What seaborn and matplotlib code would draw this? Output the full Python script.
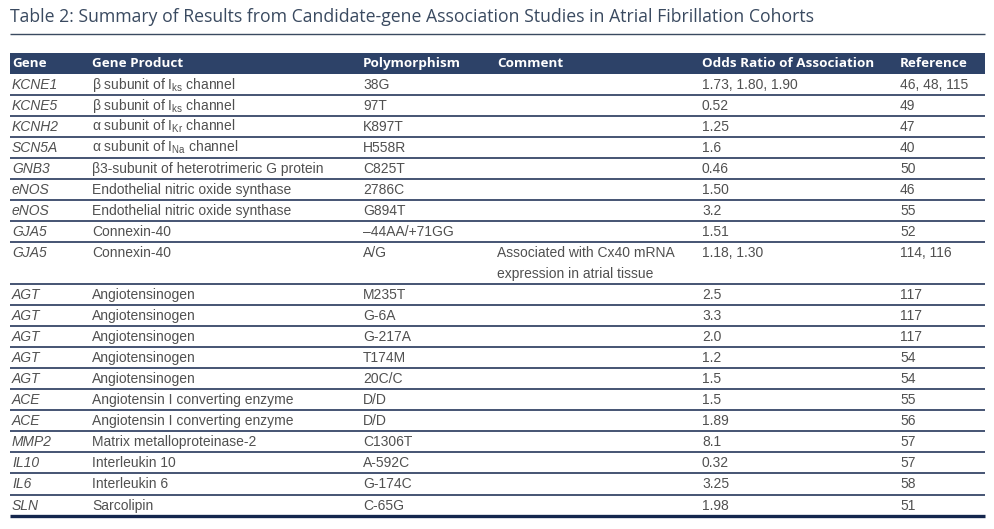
import matplotlib
matplotlib.use("Agg")
import matplotlib.pyplot as plt
from matplotlib import font_manager
import seaborn as sns

# ---------------- data ----------------
title = "Table 2: Summary of Results from Candidate-gene Association Studies in Atrial Fibrillation Cohorts"
headers = ["Gene", "Gene Product", "Polymorphism", "Comment", "Odds Ratio of Association", "Reference"]
genes = ["KCNE1", "KCNE5", "KCNH2", "SCN5A", "GNB3", "eNOS", "eNOS", "GJA5", "GJA5",
         "AGT", "AGT", "AGT", "AGT", "AGT", "ACE", "ACE", "MMP2", "IL10", "IL6", "SLN"]
products = [r"β subunit of I$_{\mathrm{ks}}$ channel",
            r"β subunit of I$_{\mathrm{ks}}$ channel",
            r"α subunit of I$_{\mathrm{Kr}}$ channel",
            r"α subunit of I$_{\mathrm{Na}}$ channel",
            "β3-subunit of heterotrimeric G protein",
            "Endothelial nitric oxide synthase",
            "Endothelial nitric oxide synthase",
            "Connexin-40", "Connexin-40",
            "Angiotensinogen", "Angiotensinogen", "Angiotensinogen", "Angiotensinogen", "Angiotensinogen",
            "Angiotensin I converting enzyme", "Angiotensin I converting enzyme",
            "Matrix metalloproteinase-2", "Interleukin 10", "Interleukin 6", "Sarcolipin"]
polymorphisms = ["38G", "97T", "K897T", "H558R", "C825T", "2786C", "G894T", "\u201344AA/+71GG", "A/G",
                 "M235T", "G-6A", "G-217A", "T174M", "20C/C", "D/D", "D/D", "C1306T", "A-592C", "G-174C", "C-65G"]
comments = ["", "", "", "", "", "", "", "", "Associated with Cx40 mRNA\nexpression in atrial tissue",
            "", "", "", "", "", "", "", "", "", "", ""]
odds = ["1.73, 1.80, 1.90", "0.52", "1.25", "1.6", "0.46", "1.50", "3.2", "1.51", "1.18, 1.30",
        "2.5", "3.3", "2.0", "1.2", "1.5", "1.5", "1.89", "8.1", "0.32", "3.25", "1.98"]
references = ["46, 48, 115", "49", "47", "40", "50", "46", "55", "52", "114, 116",
              "117", "117", "117", "54", "54", "55", "56", "57", "57", "58", "51"]

# ---------------- style ----------------
sns.set_theme(style="white")
available = {f.name for f in font_manager.fontManager.ttflist}
body_font = "Liberation Sans Narrow" if "Liberation Sans Narrow" in available else "Liberation Sans"
head_font = "Open Sans" if "Open Sans" in available else "DejaVu Sans"
plt.rcParams["font.family"] = [body_font, "DejaVu Sans"]
plt.rcParams["mathtext.fontset"] = "custom"
plt.rcParams["mathtext.rm"] = body_font
plt.rcParams["mathtext.it"] = body_font + ":italic"

navy = "#2d4268"
line_col = "#14264d"
text_col = "#505050"
title_col = "#3a4a60"

fig = plt.figure(figsize=(9.94, 5.29), dpi=100)
ax = fig.add_axes([0, 0, 1, 1])
ax.set_xlim(0, 994)
ax.set_ylim(529, 0)
ax.axis("off")

left, right = 10, 985
col_x = [12, 92, 363, 497, 702, 900]
row_h = 21.05
head_top, head_bot = 53, 73.5

# title
ax.text(left, 17, title, fontsize=12.7, color=title_col, va="center", ha="left",
        family=[head_font, "DejaVu Sans"])
ax.plot([left, right], [34, 34], color="#3a4a60", lw=1.0, solid_capstyle="butt")

# header band
ax.fill_between([left, right], head_top, head_bot, color=navy, lw=0)
for x, h in zip(col_x, headers):
    ax.text(x, (head_top + head_bot) / 2 + 0.5, h, fontsize=9.7, fontweight="bold", color="white",
            va="center", ha="left", family=[head_font, "DejaVu Sans"])

# rows
y = head_bot
for i in range(len(genes)):
    nlines = comments[i].count("\n") + 1
    h = row_h * nlines
    yc = y + row_h / 2 + 0.5
    ax.text(col_x[0], yc, genes[i], fontsize=10, style="italic", color=text_col, va="center")
    ax.text(col_x[1], yc, products[i], fontsize=10, color=text_col, va="center")
    ax.text(col_x[2], yc, polymorphisms[i], fontsize=10, color=text_col, va="center")
    for k, part in enumerate(comments[i].split("\n")):
        if part:
            ax.text(col_x[3], yc + k * row_h, part, fontsize=10, color=text_col, va="center")
    ax.text(col_x[4], yc, odds[i], fontsize=10, color=text_col, va="center")
    ax.text(col_x[5], yc, references[i], fontsize=10, color=text_col, va="center")
    y += h
    last = i == len(genes) - 1
    ax.plot([left, right], [y, y], color=line_col, lw=2.4 if last else 1.1, solid_capstyle="butt")

fig.savefig("out.png", dpi=100)
